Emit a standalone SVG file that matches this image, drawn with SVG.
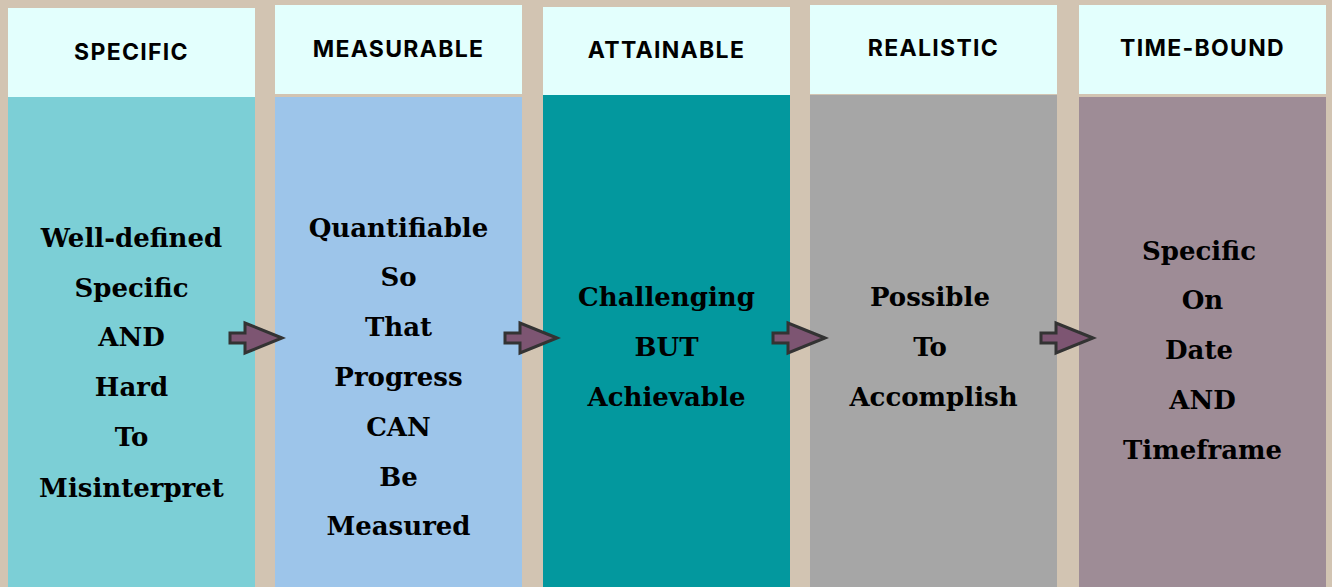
<svg xmlns="http://www.w3.org/2000/svg" width="1332" height="587" viewBox="0 0 1332 587">
<defs>
<style>
.hdr{fill:#E3FFFD}
.ht{font-family:Inter,"Liberation Sans",sans-serif;font-weight:700;font-size:23px;letter-spacing:1.3px;fill:#000;text-anchor:middle}
.bt{font-family:"DejaVu Serif","Liberation Serif",serif;font-weight:700;font-size:26px;fill:#000;text-anchor:middle}
.arr{fill:#7D5572;stroke:#333333;stroke-width:3;stroke-linejoin:miter}
</style>
<path id="arrow" d="M0,0 L-37,-15 L-37,-5 L-52,-5 L-52,5 L-37,5 L-37,15 Z"/>
</defs>
<rect width="1332" height="587" fill="#D2C4B2"/>
<g id="specific">
<rect class="hdr" x="8" y="8" width="247" height="89"/>
<rect x="8" y="97" width="247" height="490" fill="#7CCFD6"/>
<text class="ht" x="131.5" y="60">SPECIFIC</text>
<text class="bt" x="131.5" y="247">Well-defined</text>
<text class="bt" x="131.5" y="297">Specific</text>
<text class="bt" x="131.5" y="346">AND</text>
<text class="bt" x="131.5" y="396">Hard</text>
<text class="bt" x="131.5" y="446">To</text>
<text class="bt" x="131.5" y="497">Misinterpret</text>
</g>
<g id="measurable">
<rect class="hdr" x="275" y="5" width="247" height="89"/>
<rect x="275" y="97" width="247" height="490" fill="#9DC5EA"/>
<text class="ht" x="398.5" y="57">MEASURABLE</text>
<text class="bt" x="398.5" y="237">Quantifiable</text>
<text class="bt" x="398.5" y="286">So</text>
<text class="bt" x="398.5" y="336">That</text>
<text class="bt" x="398.5" y="386">Progress</text>
<text class="bt" x="398.5" y="436">CAN</text>
<text class="bt" x="398.5" y="486">Be</text>
<text class="bt" x="398.5" y="535">Measured</text>
</g>
<g id="attainable">
<rect class="hdr" x="543" y="7" width="247" height="88"/>
<rect x="543" y="95" width="247" height="492" fill="#03989E"/>
<text class="ht" x="666.5" y="58">ATTAINABLE</text>
<text class="bt" x="666.5" y="306">Challenging</text>
<text class="bt" x="666.5" y="356">BUT</text>
<text class="bt" x="666.5" y="406">Achievable</text>
</g>
<g id="realistic">
<rect class="hdr" x="810" y="5" width="247" height="89"/>
<rect x="810" y="95" width="247" height="492" fill="#A6A6A6"/>
<text class="ht" x="933.5" y="56">REALISTIC</text>
<text class="bt" x="930" y="306">Possible</text>
<text class="bt" x="930" y="356">To</text>
<text class="bt" x="933.5" y="406">Accomplish</text>
</g>
<g id="time-bound">
<rect class="hdr" x="1079" y="5" width="247" height="89"/>
<rect x="1079" y="97" width="247" height="490" fill="#9E8C96"/>
<text class="ht" x="1202.5" y="56">TIME-BOUND</text>
<text class="bt" x="1199" y="260">Specific</text>
<text class="bt" x="1202.5" y="309">On</text>
<text class="bt" x="1199" y="359">Date</text>
<text class="bt" x="1202.5" y="409">AND</text>
<text class="bt" x="1202.5" y="459">Timeframe</text>
</g>
<g id="connectors">
<use href="#arrow" class="arr" transform="translate(282,338)"/>
<use href="#arrow" class="arr" transform="translate(557,338)"/>
<use href="#arrow" class="arr" transform="translate(825,338)"/>
<use href="#arrow" class="arr" transform="translate(1093,338)"/>
</g>
</svg>
